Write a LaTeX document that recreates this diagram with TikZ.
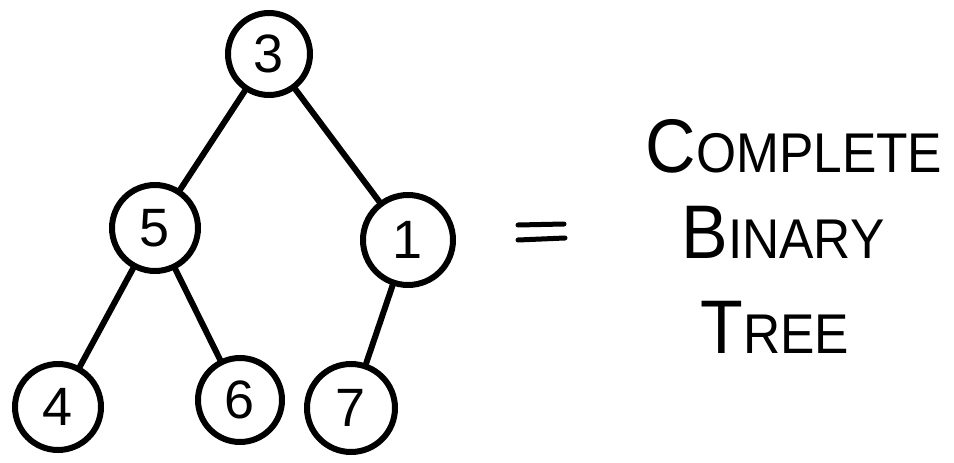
\documentclass[tikz,border=0pt]{standalone}
\usepackage{fontspec}
\setmainfont{Liberation Sans}
\newcommand{\capword}[2]{\scalebox{0.92}[1]{\fontsize{76}{76}\selectfont #1\fontsize{56}{56}\selectfont #2}}
\begin{document}
\begin{tikzpicture}[x=1pt,y=-1pt,
  treenode/.style={circle,draw,line width=6pt,inner sep=0pt,font=\fontsize{54}{54}\selectfont},
  edge/.style={line width=6pt,line cap=round},
  word/.style={anchor=base,inner sep=0pt}]
  \useasboundingbox (0,0) rectangle (954,463);
  % tree nodes
  \node[treenode,minimum size=82pt] (n3) at (269,54) {3};
  \node[treenode,minimum size=86pt] (n5) at (155,228) {5};
  \node[treenode,minimum size=90pt] (n1) at (408,240) {1};
  \node[treenode,minimum size=86pt] (n4) at (58,407) {4};
  \node[treenode,minimum size=84pt] (n6) at (240,400) {6};
  \node[treenode,minimum size=88pt] (n7) at (351,408) {7};
  % edges
  \draw[edge] (n3) -- (n5);
  \draw[edge] (n3) -- (n1);
  \draw[edge] (n5) -- (n4);
  \draw[edge] (n5) -- (n6);
  \draw[edge] (n1) -- (n7);
  % equals sign
  \coordinate (e1a) at (518,225); \coordinate (e1b) at (564,224);
  \coordinate (e2a) at (518,240); \coordinate (e2b) at (565,238);
  \draw[edge,line width=5pt] (e1a) -- (e1b);
  \draw[edge,line width=5pt] (e2a) -- (e2b);
  % caption
  \node[word] (w1) at (794,172) {\capword{C}{OMPLETE}};
  \node[word] (w2) at (783,258) {\capword{B}{INARY}};
  \node[word] (w3) at (775,353) {\capword{T}{REE}};
\end{tikzpicture}
\end{document}
